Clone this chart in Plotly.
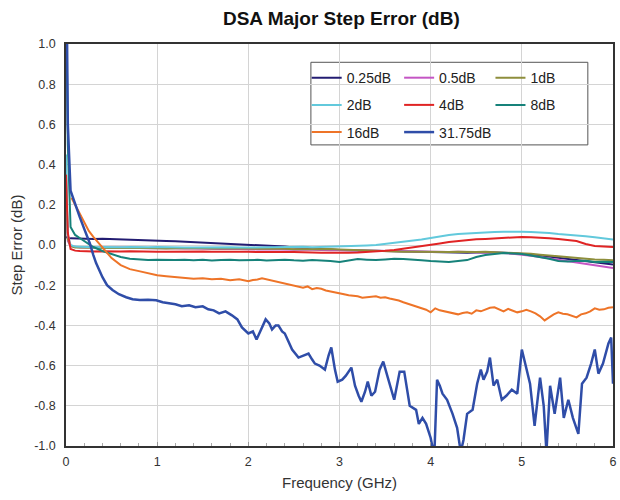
import plotly.graph_objects as go

# Frequency grid (GHz) shared by the smoother step curves
freq_main = [0.0, 0.02, 0.05, 0.1, 0.15, 0.2, 0.3, 0.4, 0.5, 0.6, 0.7, 0.8, 0.9, 1.0,
             1.1, 1.2, 1.3, 1.4, 1.5, 1.6, 1.7, 1.8, 1.9, 2.0, 2.1, 2.2, 2.3, 2.4, 2.5,
             2.6, 2.7, 2.8, 2.9, 3.0, 3.1, 3.2, 3.3, 3.4, 3.5, 3.6, 3.7, 3.8, 3.9, 4.0,
             4.1, 4.2, 4.3, 4.4, 4.5, 4.6, 4.7, 4.8, 4.9, 5.0, 5.1, 5.2, 5.3, 5.4, 5.5,
             5.6, 5.7, 5.8, 5.9, 6.0]

err_025 = [0.040, 0.035, 0.033, 0.032, 0.031, 0.032, 0.030, 0.031, 0.029, 0.028, 0.027, 0.025,
           0.024, 0.021, 0.020, 0.019, 0.017, 0.014, 0.012, 0.011, 0.008, 0.006, 0.004, 0.002,
           0.000, -0.002, -0.004, -0.008, -0.012, -0.015, -0.018, -0.020, -0.022, -0.025,
           -0.026, -0.027, -0.028, -0.030, -0.031, -0.032, -0.033, -0.034, -0.035, -0.036,
           -0.037, -0.037, -0.038, -0.038, -0.037, -0.036, -0.037, -0.038, -0.040, -0.043,
           -0.047, -0.052, -0.058, -0.064, -0.070, -0.076, -0.082, -0.087, -0.092, -0.097]

err_05 = [0.300, 0.020, -0.005, -0.010, -0.012, -0.011, -0.013, -0.012, -0.014, -0.013, -0.015,
          -0.014, -0.016, -0.015, -0.017, -0.016, -0.018, -0.017, -0.019, -0.018, -0.020, -0.019,
          -0.021, -0.020, -0.022, -0.021, -0.023, -0.022, -0.024, -0.023, -0.025, -0.024, -0.026,
          -0.025, -0.027, -0.027, -0.028, -0.029, -0.030, -0.031, -0.031, -0.032, -0.033, -0.033,
          -0.034, -0.035, -0.034, -0.035, -0.036, -0.035, -0.037, -0.040, -0.044, -0.048, -0.054,
          -0.060, -0.067, -0.073, -0.080, -0.087, -0.093, -0.100, -0.108, -0.115]

err_1 = [0.350, 0.030, -0.005, -0.012, -0.013, -0.014, -0.013, -0.015, -0.014, -0.016, -0.015,
         -0.014, -0.016, -0.015, -0.017, -0.016, -0.015, -0.017, -0.016, -0.018, -0.017, -0.016,
         -0.018, -0.017, -0.019, -0.018, -0.020, -0.019, -0.021, -0.020, -0.022, -0.021, -0.020,
         -0.022, -0.024, -0.025, -0.027, -0.028, -0.030, -0.031, -0.033, -0.034, -0.035, -0.034,
         -0.036, -0.035, -0.034, -0.036, -0.035, -0.034, -0.036, -0.035, -0.037, -0.040, -0.044,
         -0.048, -0.052, -0.057, -0.062, -0.066, -0.069, -0.072, -0.074, -0.076]

err_2 = [0.450, 0.050, 0.000, -0.008, -0.009, -0.010, -0.011, -0.010, -0.012, -0.011, -0.010,
         -0.012, -0.011, -0.010, -0.012, -0.011, -0.013, -0.012, -0.011, -0.013, -0.012, -0.011,
         -0.013, -0.012, -0.011, -0.010, -0.012, -0.011, -0.010, -0.009, -0.011, -0.010, -0.009,
         -0.008, -0.007, -0.005, -0.002, 0.000, 0.005, 0.010, 0.015, 0.020, 0.027, 0.035,
         0.043, 0.050, 0.055, 0.058, 0.061, 0.063, 0.065, 0.066, 0.067, 0.066, 0.065, 0.063,
         0.060, 0.055, 0.052, 0.048, 0.043, 0.038, 0.032, 0.027]

err_4 = [0.350, 0.060, -0.020, -0.028, -0.030, -0.031, -0.032, -0.031, -0.033, -0.032, -0.031,
         -0.033, -0.032, -0.034, -0.033, -0.032, -0.034, -0.033, -0.032, -0.034, -0.033, -0.035,
         -0.034, -0.033, -0.035, -0.034, -0.036, -0.035, -0.035, -0.037, -0.036, -0.038, -0.039,
         -0.040, -0.038, -0.037, -0.035, -0.032, -0.029, -0.025, -0.019, -0.012, -0.006, 0.000,
         0.008, 0.015, 0.020, 0.025, 0.028, 0.030, 0.033, 0.035, 0.038, 0.040, 0.039, 0.038,
         0.034, 0.030, 0.026, 0.020, 0.005, -0.005, -0.008, -0.010]

err_8 = [1.300, 0.500, 0.090, 0.050, 0.035, 0.020, -0.010, -0.030, -0.045, -0.060, -0.068,
         -0.073, -0.075, -0.074, -0.076, -0.075, -0.073, -0.076, -0.074, -0.077, -0.075, -0.073,
         -0.076, -0.075, -0.074, -0.077, -0.075, -0.073, -0.076, -0.078, -0.075, -0.077, -0.080,
         -0.085, -0.078, -0.070, -0.073, -0.075, -0.072, -0.068, -0.070, -0.072, -0.076, -0.080,
         -0.083, -0.085, -0.080, -0.075, -0.060, -0.050, -0.045, -0.040, -0.042, -0.045, -0.052,
         -0.060, -0.068, -0.080, -0.082, -0.080, -0.078, -0.085, -0.083, -0.085]

freq_16 = [0.06, 0.1, 0.15, 0.2, 0.25, 0.3, 0.4, 0.5, 0.6, 0.7, 0.8, 0.9, 1.0, 1.1, 1.2, 1.3,
           1.4, 1.5, 1.6, 1.7, 1.8, 1.9, 2.0, 2.05, 2.1, 2.15, 2.2, 2.25, 2.3, 2.35, 2.4, 2.45,
           2.5, 2.55, 2.6, 2.65, 2.7, 2.75, 2.8, 2.85, 2.9, 2.95, 3.0, 3.05, 3.1, 3.15, 3.2,
           3.25, 3.3, 3.35, 3.4, 3.45, 3.5, 3.55, 3.6, 3.65, 3.7, 3.75, 3.8, 3.85, 3.9, 3.95,
           4.0, 4.05, 4.1, 4.15, 4.2, 4.25, 4.3, 4.35, 4.4, 4.45, 4.5, 4.55, 4.6, 4.65, 4.7,
           4.75, 4.8, 4.85, 4.9, 4.95, 5.0, 5.05, 5.1, 5.15, 5.2, 5.25, 5.3, 5.35, 5.4, 5.45,
           5.5, 5.55, 5.6, 5.65, 5.7, 5.75, 5.8, 5.85, 5.9, 5.95, 6.0]
err_16 = [0.235, 0.200, 0.160, 0.110, 0.070, 0.040, -0.015, -0.065, -0.100, -0.120, -0.130,
          -0.140, -0.150, -0.155, -0.160, -0.162, -0.168, -0.165, -0.170, -0.168, -0.175, -0.170,
          -0.180, -0.174, -0.172, -0.165, -0.170, -0.176, -0.180, -0.185, -0.190, -0.196, -0.200,
          -0.208, -0.212, -0.206, -0.220, -0.214, -0.218, -0.226, -0.230, -0.234, -0.238, -0.245,
          -0.250, -0.252, -0.255, -0.262, -0.260, -0.255, -0.255, -0.262, -0.260, -0.266, -0.270,
          -0.276, -0.285, -0.292, -0.300, -0.306, -0.315, -0.322, -0.335, -0.315, -0.325, -0.330,
          -0.335, -0.340, -0.345, -0.338, -0.335, -0.342, -0.325, -0.330, -0.320, -0.312, -0.310,
          -0.322, -0.330, -0.318, -0.325, -0.335, -0.330, -0.322, -0.330, -0.340, -0.355, -0.375,
          -0.360, -0.345, -0.335, -0.342, -0.345, -0.352, -0.360, -0.345, -0.340, -0.330, -0.315,
          -0.322, -0.320, -0.312, -0.310]

freq_3175 = [0.0, 0.02, 0.05, 0.1, 0.15, 0.2, 0.26, 0.3, 0.33, 0.4, 0.45, 0.51, 0.58, 0.66,
             0.73, 0.81, 0.9, 0.99, 1.06, 1.13, 1.2, 1.27, 1.35, 1.42, 1.5, 1.56, 1.62, 1.68,
             1.75, 1.82, 1.88, 1.93, 2.0, 2.05, 2.09, 2.14, 2.19, 2.23, 2.26, 2.3, 2.33, 2.37,
             2.4, 2.44, 2.48, 2.55, 2.6, 2.66, 2.7, 2.73, 2.78, 2.84, 2.88, 2.91, 2.95, 2.98,
             3.03, 3.07, 3.13, 3.17, 3.21, 3.24, 3.28, 3.31, 3.35, 3.39, 3.44, 3.48, 3.53, 3.57,
             3.6, 3.66, 3.71, 3.77, 3.84, 3.87, 3.91, 3.95, 4.0, 4.04, 4.07, 4.1, 4.13, 4.18,
             4.24, 4.29, 4.33, 4.36, 4.4, 4.46, 4.51, 4.55, 4.58, 4.62, 4.65, 4.69, 4.73, 4.78,
             4.83, 4.89, 4.95, 5.0, 5.05, 5.09, 5.14, 5.2, 5.24, 5.27, 5.31, 5.36, 5.42, 5.46,
             5.51, 5.56, 5.62, 5.66, 5.71, 5.76, 5.8, 5.84, 5.89, 5.95, 5.98, 6.0]
err_3175 = [1.60, 0.60, 0.27, 0.20, 0.14, 0.08, 0.01, -0.05, -0.09, -0.16, -0.20, -0.224,
            -0.245, -0.26, -0.27, -0.274, -0.272, -0.275, -0.285, -0.29, -0.295, -0.305, -0.30,
            -0.31, -0.305, -0.32, -0.325, -0.34, -0.33, -0.35, -0.37, -0.41, -0.44, -0.43,
            -0.47, -0.42, -0.37, -0.39, -0.42, -0.40, -0.40, -0.43, -0.44, -0.48, -0.52, -0.56,
            -0.55, -0.54, -0.57, -0.59, -0.60, -0.62, -0.55, -0.51, -0.62, -0.68, -0.67, -0.65,
            -0.61, -0.70, -0.75, -0.78, -0.73, -0.68, -0.75, -0.73, -0.62, -0.58, -0.66, -0.72,
            -0.77, -0.63, -0.63, -0.80, -0.82, -0.89, -0.86, -0.89, -0.96, -1.05, -0.67, -0.70,
            -0.74, -0.77, -0.84, -0.91, -1.03, -0.97, -0.84, -0.82, -0.69, -0.62, -0.67, -0.63,
            -0.56, -0.70, -0.67, -0.77, -0.75, -0.72, -0.74, -0.52, -0.62, -0.69, -0.90, -0.66,
            -0.80, -1.03, -0.70, -0.84, -0.66, -0.86, -0.77, -0.86, -0.94, -0.69, -0.66, -0.59,
            -0.52, -0.64, -0.59, -0.49, -0.46, -0.69]

y_ticks = [-1.0, -0.8, -0.6, -0.4, -0.2, 0.0, 0.2, 0.4, 0.6, 0.8, 1.0]
y_labels = ["-1.0", "-0.8", "-0.6", "-0.4", "-0.2", "0.0", "0.2", "0.4", "0.6", "0.8", "1.0"]

# name, x, y, colour, width, legend column
series = [
    ("0.25dB", freq_main, err_025, "#231C72", 2.0, "legend"),
    ("0.5dB", freq_main, err_05, "#C455C4", 2.0, "legend2"),
    ("1dB", freq_main, err_1, "#8E8E3C", 2.0, "legend3"),
    ("2dB", freq_main, err_2, "#62C9DC", 2.0, "legend"),
    ("4dB", freq_main, err_4, "#E02424", 2.0, "legend2"),
    ("8dB", freq_main, err_8, "#16827A", 2.0, "legend3"),
    ("16dB", freq_16, err_16, "#EE7428", 2.0, "legend"),
    ("31.75dB", freq_3175, err_3175, "#2F4DA8", 2.5, "legend2"),
]

FONT = "Liberation Sans, Arial, sans-serif"

fig = go.Figure()
for name, xs, ys, color, width, leg in series:
    fig.add_trace(go.Scatter(
        x=xs, y=ys, mode="lines", name=name, legend=leg, legendgroup=name,
        line=dict(color=color, width=width),
    ))

# three-column legend: one vertical legend per column, shared frame drawn as a shape
legend_common = dict(
    bgcolor="rgba(0,0,0,0)", borderwidth=0, font=dict(family=FONT, size=14, color="#222"),
    traceorder="grouped", tracegroupgap=6, yanchor="top", xanchor="left",
    itemwidth=30,
)
fig.update_layout(
    legend=dict(x=0.440, y=0.955, **legend_common),
    legend2=dict(x=0.609, y=0.955, **legend_common),
    legend3=dict(x=0.776, y=0.955, **legend_common),
)
fig.add_shape(type="rect", xref="paper", yref="paper", x0=0.4477, x1=0.954, y0=0.749,
              y1=0.9545, line=dict(color="#555", width=1), fillcolor="white", layer="between")

fig.update_layout(
    width=620, height=500,
    margin=dict(l=66, r=3, t=44, b=54),
    paper_bgcolor="white", plot_bgcolor="white",
    title=dict(text="<b>DSA Major Step Error (dB)</b>", x=0.5506, xanchor="center",
               y=0.964, yanchor="middle", font=dict(family=FONT, size=19, color="#111")),
    font=dict(family=FONT, color="#333"),
)
fig.update_xaxes(
    range=[0, 6], dtick=1, tick0=0, showgrid=True, gridcolor="#D4D4D4", gridwidth=1,
    showline=True, linecolor="#333", linewidth=1.5, mirror=True, zeroline=False,
    ticks="inside", ticklen=4, tickcolor="#999", ticklabelstandoff=3,
    minor=dict(dtick=0.2, tick0=0, ticks="inside", ticklen=3, tickcolor="#aaa", showgrid=False),
    tickfont=dict(family=FONT, size=12.5, color="#333"),
    title=dict(text="Frequency (GHz)", font=dict(family=FONT, size=15, color="#333"), standoff=10),
)
fig.update_yaxes(
    range=[-1, 1], tickvals=y_ticks, ticktext=y_labels, showgrid=True, gridcolor="#D4D4D4",
    gridwidth=1, showline=True, linecolor="#333", linewidth=1.5, mirror=True, zeroline=False,
    ticks="", ticklabelstandoff=6,
    tickfont=dict(family=FONT, size=12.5, color="#333"),
    title=dict(text="Step Error (dB)", font=dict(family=FONT, size=15, color="#333"), standoff=8),
)

fig.write_html("out.html")
